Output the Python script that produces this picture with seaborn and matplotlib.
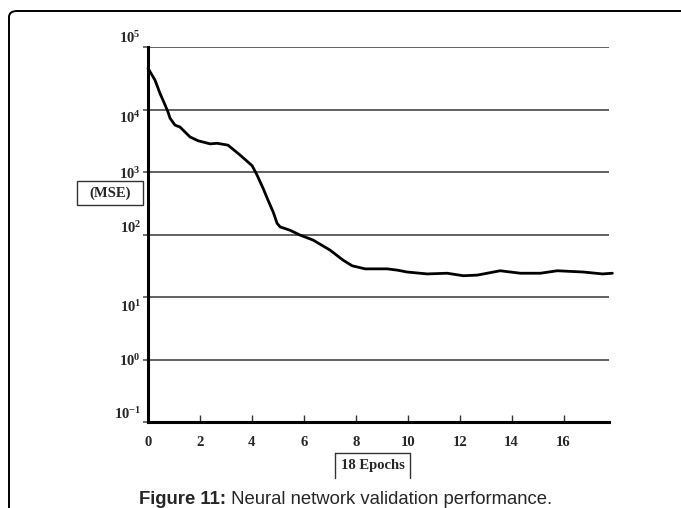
import matplotlib
matplotlib.use("Agg")
import matplotlib.pyplot as plt
import matplotlib.transforms as mtransforms
import seaborn as sns
import pandas as pd
from matplotlib.patches import Rectangle, FancyBboxPatch
from matplotlib.lines import Line2D

# ---- data ----
epochs = [0.0, 0.27, 0.46, 0.66, 0.77, 0.85, 1.04, 1.23, 1.62, 1.93, 2.39, 2.66,
          3.08, 3.55, 4.01, 4.20, 4.43, 4.62, 4.82, 4.97, 5.09, 5.47, 5.86, 6.36,
          7.01, 7.51, 7.86, 8.36, 9.21, 9.60, 9.98, 10.75, 11.52, 12.14, 12.68,
          13.56, 14.34, 15.11, 15.76, 16.76, 17.50, 17.88]
mse = [45700, 29500, 18200, 11750, 9120, 7240, 5620, 5250, 3630, 3160, 2820, 2880,
       2690, 1860, 1260, 891, 550, 355, 229, 151, 132, 117, 97.7, 81.3,
       56.2, 38.9, 31.6, 28.2, 28.2, 26.9, 25.1, 23.4, 24.0, 21.9, 22.4,
       26.3, 24.0, 24.0, 26.3, 25.1, 23.4, 24.0]
x_ticks = [0, 2, 4, 6, 8, 10, 12, 14, 16]
y_ticks = [1e-1, 1e0, 1e1, 1e2, 1e3, 1e4, 1e5]
y_tick_labels = [r"$\mathrm{10^{-1}}$", r"$\mathrm{10^{0}}$", r"$\mathrm{10^{1}}$",
                 r"$\mathrm{10^{2}}$", r"$\mathrm{10^{3}}$", r"$\mathrm{10^{4}}$",
                 r"$\mathrm{10^{5}}$"]
y_label = "(MSE)"
x_label = "18 Epochs"
caption_bold = "Figure 11:"
caption_rest = " Neural network validation performance."

sns.set_style("white")
plt.rcParams["font.family"] = ["Liberation Serif", "DejaVu Serif"]
plt.rcParams["mathtext.fontset"] = "custom"
plt.rcParams["mathtext.rm"] = "Liberation Serif:bold"
plt.rcParams["mathtext.it"] = "Liberation Serif:bold"
plt.rcParams["mathtext.bf"] = "Liberation Serif:bold"

W, H = 681, 508
fig = plt.figure(figsize=(W / 100, H / 100), dpi=100)
ax = fig.add_axes([148 / W, 1 - 422 / H, (609 - 148) / W, (422 - 47) / H])

df = pd.DataFrame({"epoch": epochs, "mse": mse})
sns.lineplot(data=df, x="epoch", y="mse", ax=ax, color="black", lw=2.0,
             sort=False, clip_on=False, zorder=5)

ax.set_yscale("log")
ax.set_ylim(1e-1, 1e5)
ax.set_xlim(0, 17.75)
ax.set_xlabel("")
ax.set_ylabel("")

# horizontal gridlines at each decade
for yv in y_ticks[1:]:
    ax.axhline(yv, color="#555555", lw=1.3, zorder=1)

ax.set_yticks(y_ticks)
ax.set_yticklabels(y_tick_labels)
ax.yaxis.set_minor_locator(matplotlib.ticker.NullLocator())
ax.tick_params(axis="y", direction="out", length=3.6, width=1.2, color="#555555",
               labelsize=10.5, pad=1.5, left=True)
# small vertical offsets of the y labels as in the reference (pixels, + = up)
label_offsets = [9, 0, -9, 8, -1, -7, 10]
for lab, off in zip(ax.get_yticklabels(), label_offsets):
    lab.set_transform(lab.get_transform() +
                      mtransforms.ScaledTranslation(0, off / 100, fig.dpi_scale_trans))

ax.set_xticks(x_ticks)
ax.set_xticklabels([str(v) for v in x_ticks], fontweight="bold")
ax.tick_params(axis="x", direction="in", length=5, width=1.0, color="#333333",
               labelsize=10.5, pad=10, bottom=True)

for s in ["top", "right"]:
    ax.spines[s].set_visible(False)
for s in ["left", "bottom"]:
    ax.spines[s].set_color("black")
    ax.spines[s].set_linewidth(2.2)

# (MSE) box
fig.patches.append(Rectangle((77 / W, 1 - 205 / H), 66 / W, 24 / H,
                             transform=fig.transFigure, fill=False,
                             edgecolor="#333333", lw=1.0))
fig.text(110 / W, 1 - 193 / H, y_label, ha="center", va="center",
         fontsize=10.5, fontweight="bold")

# 18 Epochs box (open bottom)
bx0, bx1, by0, by1 = 335, 410, 453, 478
for (xa, ya, xb, yb) in [(bx0, by1, bx0, by0), (bx0, by0, bx1, by0), (bx1, by0, bx1, by1)]:
    fig.lines.append(Line2D([xa / W, xb / W], [1 - ya / H, 1 - yb / H],
                            transform=fig.transFigure, color="#333333", lw=1.0))
fig.text((bx0 + bx1) / 2 / W, 1 - 466 / H, x_label, ha="center", va="center",
         fontsize=10.5, fontweight="bold")

# outer frame (top and left edges with rounded corner)
fig.patches.append(FancyBboxPatch((9 / W, -20 / H), 700 / W, (20 + 497) / H,
                                  boxstyle="round,pad=0,rounding_size=0.012",
                                  transform=fig.transFigure, fill=False,
                                  edgecolor="black", lw=1.4, clip_on=False))

# caption
t1 = fig.text(139 / W, 1 - 499 / H, caption_bold, ha="left", va="center",
              fontsize=13.3, fontweight="bold",
              family=["Liberation Sans", "DejaVu Sans"])
fig.canvas.draw()
bb = t1.get_window_extent()
fig.text(bb.x1 / W, 1 - 499 / H, caption_rest, ha="left", va="center",
         fontsize=13.3, family=["Liberation Sans", "DejaVu Sans"])

fig.savefig("out.png", dpi=100)
